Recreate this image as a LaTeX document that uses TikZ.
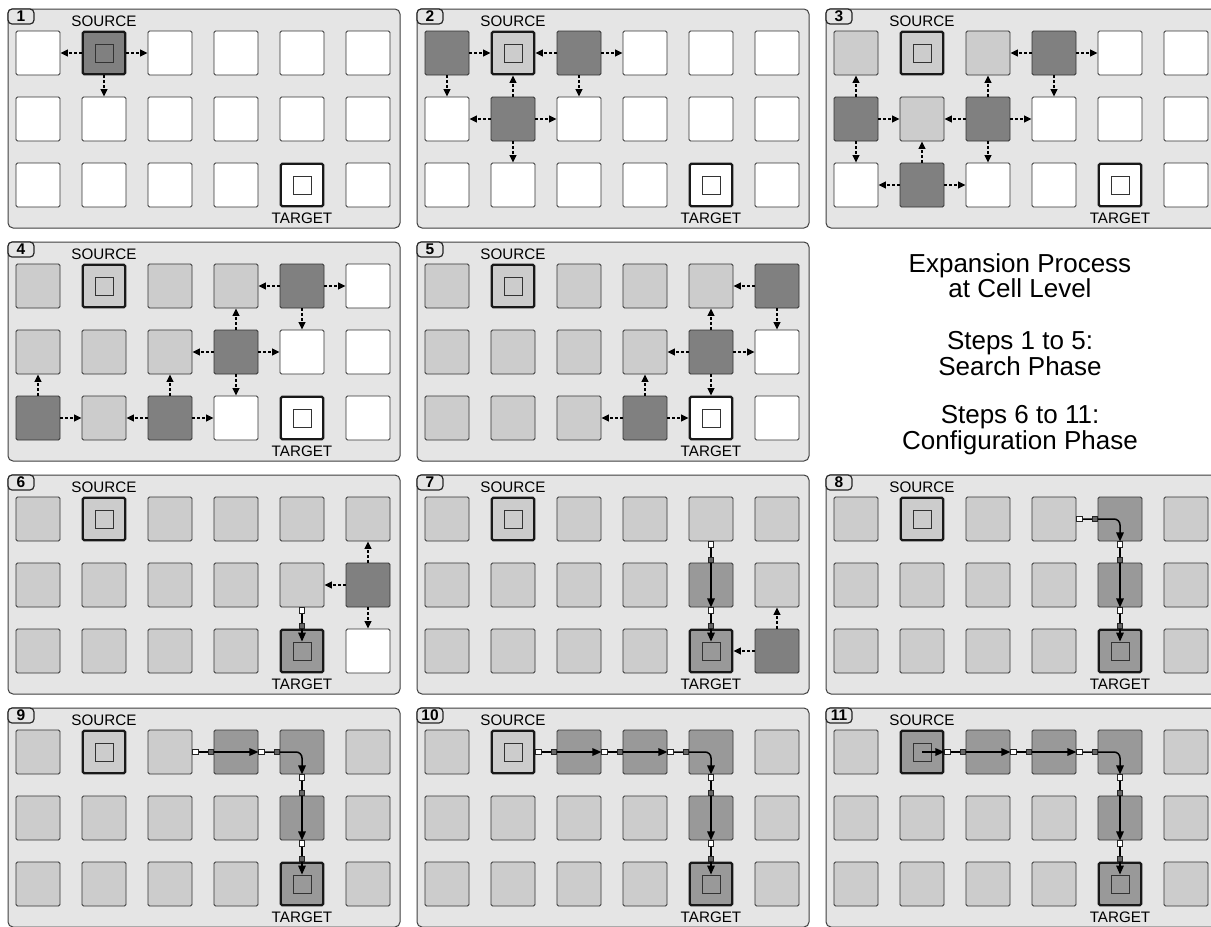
\documentclass[tikz,border=0pt]{standalone}
\usepackage{fontspec}
\setmainfont{Liberation Sans}
\usetikzlibrary{arrows.meta,positioning}

\tikzset{
  panelbox/.style={draw=black!75, fill=black!10, line width=1pt, rounded corners=5pt},
  steptab/.style={draw=black!85, fill=black!10, line width=1.2pt, rounded corners=4pt,
    minimum width=26pt, minimum height=15pt, inner sep=0pt, outer sep=0pt,
    anchor=north west, font=\bfseries\fontsize{15.5}{15}\selectfont},
  cell/.style={draw=black!80, line width=0.9pt, rounded corners=1.5pt,
    minimum size=44pt, inner sep=0pt},
  cellW/.style={cell, fill=white},
  cellL/.style={cell, fill=black!20},
  cellD/.style={cell, fill=black!50},
  cellP/.style={cell, fill=black!40},
  endcell/.style={draw=black!90, line width=2.4pt, minimum size=42.5pt},
  cellWx/.style={cellW, endcell},
  cellLx/.style={cellL, endcell},
  cellDx/.style={cellD, endcell},
  cellPx/.style={cellP, endcell},
  cellcore/.style={draw=black!80, line width=0.8pt, minimum size=18pt, inner sep=0pt},
  endlabel/.style={inner sep=0pt, font=\fontsize{15.2}{16}\selectfont},
  note/.style={align=center, font=\fontsize{26}{25.7}\selectfont},
  probe/.style={draw=black, line width=1.2pt, dash pattern=on 3pt off 2pt,
    -{Triangle[length=7.5pt,width=7pt]}},
  route/.style={draw=black, line width=1.5pt, -{Triangle[length=9pt,width=7.5pt]}},
  outport/.style={draw=black!85, fill=white, line width=0.6pt,
    minimum size=5.5pt, inner sep=0pt, outer sep=0pt},
  inport/.style={outport, fill=black!60}
}

% one step of the expansion: number, offset, states of the three rows
\newcommand{\gridpanel}[6]{%
  \begin{scope}[shift={(#2,#3)}]
    \draw[panelbox] (0,0) rectangle (392,219);
    \node[steptab] (p#1-tab) at (0,0) {#1};
    \foreach \s [count=\c] in {#4} \node[cell\s] (p#1-1\c) at (66*\c-36,44) {};
    \foreach \s [count=\c] in {#5} \node[cell\s] (p#1-2\c) at (66*\c-36,110) {};
    \foreach \s [count=\c] in {#6} \node[cell\s] (p#1-3\c) at (66*\c-36,176) {};
    \node[cellcore] (p#1-sc) at (p#1-12) {};
    \node[cellcore] (p#1-tc) at (p#1-35) {};
    \node[endlabel, above=4pt of p#1-12] (p#1-src) {SOURCE};
    \node[endlabel, below=5pt of p#1-35] (p#1-tgt) {TARGET};
  \end{scope}}

% ports between two cells of the route
\newcommand{\hopH}[2]{%
  \node[outport, anchor=west] (#1-out) at (#1.east) {};
  \node[inport, anchor=east] (#2-in) at (#2.west) {};}
\newcommand{\hopV}[2]{%
  \node[outport, anchor=north] (#1-out) at (#1.south) {};
  \node[inport, anchor=south] (#2-in) at (#2.north) {};}
\newcommand{\finalhop}[1]{%
  \draw[route] (#1-25.south) -- (#1-tc.north);
  \hopV{#1-25}{#1-35}}
\newcommand{\pathtail}[1]{%
  \draw[route] (#1-15.south) -- (#1-25.south);
  \hopV{#1-15}{#1-25}\finalhop{#1}}

\begin{document}
\begin{tikzpicture}[x=1pt, y=-1pt]
    \path[use as bounding box, fill=white] (0,0) rectangle (1211,927);

    % Search phase
    \gridpanel{1}{8}{9}{W,Dx,W,W,W,W}{W,W,W,W,W,W}{W,W,W,W,Wx,W}
    \foreach \a/\b in {12/11,12/13,12/22} \draw[probe] (p1-\a) -- (p1-\b);

    \gridpanel{2}{417}{9}{D,Lx,D,W,W,W}{W,D,W,W,W,W}{W,W,W,W,Wx,W}
    \foreach \a/\b in {11/12,11/21,13/12,13/14,13/23,22/12,22/21,22/23,22/32}
        \draw[probe] (p2-\a) -- (p2-\b);

    \gridpanel{3}{826}{9}{L,Lx,L,D,W,W}{D,L,D,W,W,W}{W,D,W,W,Wx,W}
    \foreach \a/\b in {14/13,14/15,14/24,21/11,21/22,21/31,23/13,23/22,23/24,23/33,32/22,32/31,32/33}
        \draw[probe] (p3-\a) -- (p3-\b);

    \gridpanel{4}{8}{242}{L,Lx,L,L,D,W}{L,L,L,D,W,W}{D,L,D,W,Wx,W}
    \foreach \a/\b in {15/14,15/16,15/25,24/14,24/23,24/25,24/34,31/21,31/32,33/23,33/32,33/34}
        \draw[probe] (p4-\a) -- (p4-\b);

    \gridpanel{5}{417}{242}{L,Lx,L,L,L,D}{L,L,L,L,D,W}{L,L,L,D,Wx,W}
    \foreach \a/\b in {16/15,16/26,25/15,25/24,25/26,25/35,34/24,34/33,34/35}
        \draw[probe] (p5-\a) -- (p5-\b);

    % Legend
    \node[note] (legend) at (1020,354) {Expansion Process\\at Cell Level\\[26pt]
        Steps 1 to 5:\\Search Phase\\[22.5pt]Steps 6 to 11:\\Configuration Phase};

    % Configuration phase
    \gridpanel{6}{8}{475}{L,Lx,L,L,L,L}{L,L,L,L,L,D}{L,L,L,L,Px,W}
    \foreach \a/\b in {26/16,26/25,26/36} \draw[probe] (p6-\a) -- (p6-\b);
    \finalhop{p6}

    \gridpanel{7}{417}{475}{L,Lx,L,L,L,L}{L,L,L,L,P,L}{L,L,L,L,Px,D}
    \foreach \a/\b in {36/35,36/26} \draw[probe] (p7-\a) -- (p7-\b);
    \pathtail{p7}

    \gridpanel{8}{826}{475}{L,Lx,L,L,P,L}{L,L,L,L,P,L}{L,L,L,L,Px,L}
    \draw[route, rounded corners=6pt] (p8-14.east) -| (p8-15.south);
    \hopH{p8-14}{p8-15}
    \pathtail{p8}

    \gridpanel{9}{8}{708}{L,Lx,L,P,P,L}{L,L,L,L,P,L}{L,L,L,L,Px,L}
    \draw[route] (p9-13.east) -- (p9-14.east);
    \draw[route, rounded corners=6pt] (p9-14.east) -| (p9-15.south);
    \hopH{p9-13}{p9-14}\hopH{p9-14}{p9-15}
    \pathtail{p9}

    \gridpanel{10}{417}{708}{L,Lx,P,P,P,L}{L,L,L,L,P,L}{L,L,L,L,Px,L}
    \foreach \a/\b in {12/13,13/14} {
        \draw[route] (p10-\a.east) -- (p10-\b.east);
        \hopH{p10-\a}{p10-\b}}
    \draw[route, rounded corners=6pt] (p10-14.east) -| (p10-15.south);
    \hopH{p10-14}{p10-15}
    \pathtail{p10}

    \gridpanel{11}{826}{708}{L,Px,P,P,P,L}{L,L,L,L,P,L}{L,L,L,L,Px,L}
    \draw[route] (p11-sc.center) -- (p11-12.east);
    \foreach \a/\b in {12/13,13/14} {
        \draw[route] (p11-\a.east) -- (p11-\b.east);
        \hopH{p11-\a}{p11-\b}}
    \draw[route, rounded corners=6pt] (p11-14.east) -| (p11-15.south);
    \hopH{p11-14}{p11-15}
    \pathtail{p11}
\end{tikzpicture}
\end{document}
